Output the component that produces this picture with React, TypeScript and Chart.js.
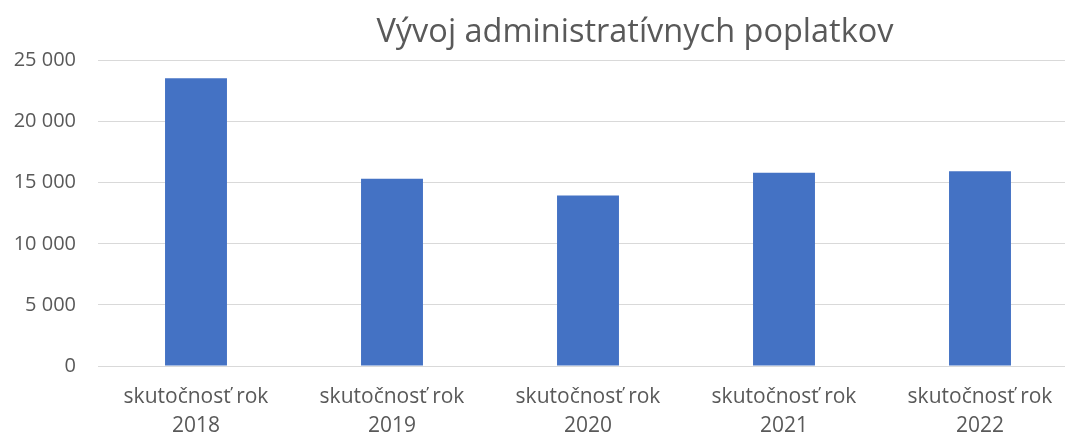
import React, { useEffect, useRef } from "react";
import { Chart, registerables } from "chart.js";

Chart.register(...registerables);

const titleText = "Vývoj administratívnych poplatkov";
const categories: string[][] = [
  ["skutočnosť rok", "2018"],
  ["skutočnosť rok", "2019"],
  ["skutočnosť rok", "2020"],
  ["skutočnosť rok", "2021"],
  ["skutočnosť rok", "2022"],
];
const values: number[] = [23550, 15330, 13960, 15820, 15930];
const yTicks: number[] = [0, 5000, 10000, 15000, 20000, 25000];

const fmt = (v: number) => String(v).replace(/\B(?=(\d{3})+(?!\d))/g, " ");

export default function App() {
  const ref = useRef<HTMLCanvasElement | null>(null);
  useEffect(() => {
    if (!ref.current) return;
    const font = "'Open Sans', Lato, sans-serif";
    const chart = new Chart(ref.current, {
      type: "bar",
      data: {
        labels: categories,
        datasets: [
          {
            data: values,
            backgroundColor: "#4472C4",
            borderWidth: 0,
            barPercentage: 0.316,
            categoryPercentage: 1,
          },
        ],
      },
      options: {
        responsive: false,
        animation: false,
        layout: { padding: 0 },
        plugins: {
          legend: { display: false },
          tooltip: { enabled: false },
          title: {
            display: true,
            text: titleText,
            color: "#595959",
            font: { family: font, size: 32.5, weight: "normal", lineHeight: 1.2 },
            padding: { top: 13, bottom: 8.5 },
          },
        },
        scales: {
          x: {
            grid: { display: false },
            border: { display: true, color: "#d9d9d9", width: 1 },
            ticks: {
              color: "#595959",
              font: { family: font, size: 21, lineHeight: 1.35 },
              maxRotation: 0,
              autoSkip: false,
              padding: 9,
            },
            afterFit: (s: any) => {
              s.height = 68;
            },
          },
          y: {
            min: 0,
            max: 25000,
            afterBuildTicks: (s: any) => {
              s.ticks = yTicks.map((v) => ({ value: v }));
            },
            grid: { color: "#d9d9d9", drawTicks: false },
            border: { display: false },
            ticks: {
              color: "#595959",
              font: { family: font, size: 20 },
              padding: 22,
              callback: (v: any) => fmt(Number(v)),
            },
            afterFit: (s: any) => {
              s.width = 98;
            },
          },
          spacer: {
            type: "linear",
            position: "right",
            display: true,
            grid: { display: false },
            border: { display: false },
            ticks: { display: false },
            afterFit: (s: any) => {
              s.width = 192;
            },
          },
        },
      },
    });
    return () => chart.destroy();
  }, []);
  return (
    <div
      style={{
        position: "fixed",
        left: 0,
        top: 0,
        width: 1065,
        height: 434,
        overflow: "hidden",
        background: "#fff",
      }}
    >
      <canvas ref={ref} width={1270} height={434} />
    </div>
  );
}
